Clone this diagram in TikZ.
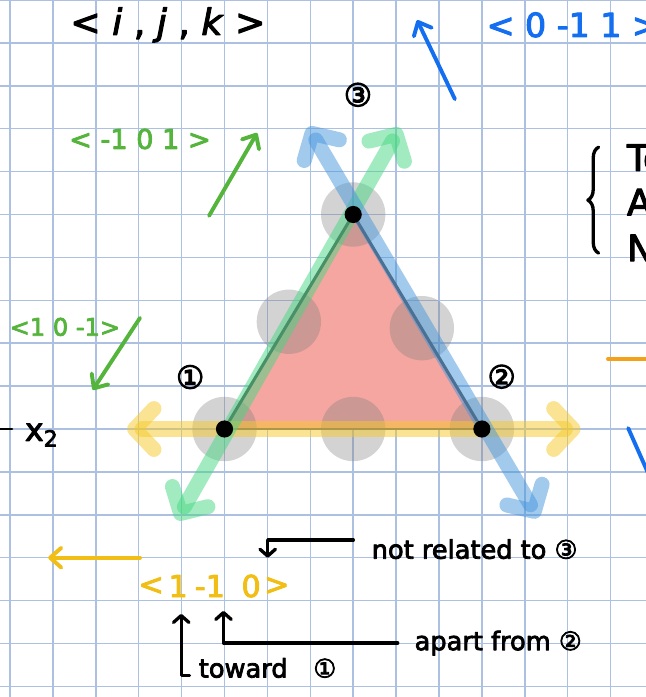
\documentclass[tikz,border=0pt]{standalone}
\usepackage{fontspec}
\setmainfont{DejaVu Sans}[FakeBold=3]
\newfontfamily\numfont{DejaVu Sans}[FakeBold=3.5]
\usetikzlibrary{arrows.meta,decorations.pathreplacing}
\definecolor{gridblue}{RGB}{172,192,226}
\definecolor{trired}{RGB}{245,166,160}
\definecolor{hlyellow}{RGB}{245,200,40}
\definecolor{hlblue}{RGB}{70,150,220}
\definecolor{hlgreen}{RGB}{70,215,130}
\definecolor{inkblue}{RGB}{20,110,240}
\definecolor{inkgreen}{RGB}{85,180,60}
\definecolor{inkyellow}{RGB}{240,190,20}
\definecolor{inkorange}{RGB}{245,160,25}

\begin{document}
\begin{tikzpicture}[line cap=round, line join=round, every node/.style={inner sep=1pt},
    hltip/.tip={Straight Barb[length=4.5mm,width=9.5mm,round]},
    pentip/.tip={Straight Barb[length=2.6mm,width=4.6mm,round]},
    hl/.style={line width=10pt, opacity=0.5, hltip-hltip},
    pen/.style={line width=2.6pt, -pentip},
    ann/.style={line width=2.2pt, {Straight Barb[length=1.6mm,width=3.6mm,round]}-},
    spot/.style={fill=gray, opacity=0.35},
    vec/.style={font=\fontsize{18}{20}\selectfont},
    ytxt/.style={inkyellow, font=\fontsize{20}{22}\selectfont},
    note/.style={font=\fontsize{17}{20}\selectfont, anchor=west},
    num/.style={font=\numfont\fontsize{21}{22}\selectfont, inner sep=0pt}]
  \useasboundingbox (-0.233,-16.247) rectangle (14.802,0);
  \draw[gridblue, line width=1pt] (-0.5,-16.5) grid (15,0);

  % triangle of the three points
  \coordinate (v1) at (5,-10);
  \coordinate (v2) at (11,-10);
  \coordinate (v3) at (8,-5);
  \fill[trired] (v1) -- (v2) -- (v3) -- cycle;
  \fill[spot] (v1) circle (0.75) (v2) circle (0.75) (v3) circle (0.75)
    (6.5,-7.5) circle (0.75) (9.6,-7.65) circle (0.75) (8,-10) circle (0.75);
  \draw[black!70, line width=2pt] (v1) -- (v3) -- (v2);
  \draw[black!60, line width=1.2pt] (v1) -- (v2);
  \draw[hl, hlyellow] (2.73,-10) -- (13.3,-10);
  \draw[hl, hlgreen] (3.89,-12.12) -- (9.09,-2.98);
  \draw[hl, hlblue] (6.95,-2.96) -- (12.31,-12.07);
  \fill (v1) circle (0.2) (v2) circle (0.2) (v3) circle (0.2);
  \node[num] (l1) at (4.2,-8.79) {①};
  \node[num] (l2) at (11.46,-8.78) {②};
  \node[num] (l3) at (8.11,-2.21) {③};

  % direction labels
  \node[font=\fontsize{24}{28}\selectfont] (ijk) at (3.68,-0.58) {< \textit{i} , \textit{j} , \textit{k} >};
  \node[inkblue, anchor=west, font=\fontsize{22}{24}\selectfont] (vblue) at (11.07,-0.58) {< 0 -1 1 >};
  \draw[pen, inkblue] (10.37,-2.31) -- (9.49,-0.47);
  \node[vec, inkgreen] (vgreen) at (3.03,-3.24) {< -1 0 1 >};
  \draw[pen, inkgreen] (4.64,-5.03) -- (5.76,-3.10);
  \node[vec, inkgreen, font=\fontsize{16}{18}\selectfont] (vgreenb) at (1.28,-7.62) {<1 0 -1>};
  \draw[pen, inkgreen] (3.03,-7.41) -- (1.93,-9.09);
  \draw[black, line width=1.5pt] (-0.3,-10) -- (0.05,-10);
  \node[font=\fontsize{21}{22}\selectfont] (xtwo) at (0.74,-10.14) {x\textsubscript{2}};
  \draw[pen, inkyellow] (3.03,-13) -- (0.89,-13);

  % < 1 -1 0 > and what each entry means
  \node[ytxt] (ylt) at (3.29,-13.66) {<};
  \node[ytxt] (y1) at (3.92,-13.66) {1};
  \node[ytxt] (y2) at (4.66,-13.66) {-1};
  \node[ytxt] (y3) at (5.62,-13.66) {0};
  \node[ytxt] (ygt) at (6.22,-13.66) {>};
  \node[note] (notrel) at (8.39,-12.8) {not related to ③};
  \node[note] (apart) at (9.39,-14.99) {apart from ②};
  \node[note] (toward) at (4.36,-15.57) {toward\hspace{0.6cm}①};
  \draw[ann] ([xshift=11pt,yshift=10pt]y3.north) |- ([xshift=-11pt,yshift=6pt]notrel.west);
  \draw[ann] ([xshift=9pt,yshift=-8pt]y2.south) |- ([xshift=-10pt]apart.west);
  \draw[ann] ([xshift=2pt,yshift=-10pt]y1.south) |- ([xshift=-5pt,yshift=-5pt]toward.west);

  % cut off at the right edge
  \draw[line width=2.2pt, decorate, decoration={brace, amplitude=0.25cm}] (13.72,-5.9) -- (13.72,-3.43);
  \node[font=\fontsize{24}{28}\selectfont, anchor=west] (tword) at (14.34,-3.68) {To};
  \node[font=\fontsize{24}{28}\selectfont, anchor=west] (aword) at (14.34,-4.71) {A};
  \node[font=\fontsize{24}{28}\selectfont, anchor=west] (nword) at (14.34,-5.78) {N};
  \draw[inkorange, line width=2.6pt] (13.94,-8.37) -- (15.2,-8.37);
  \draw[inkblue, line width=2.6pt] (14.41,-9.98) -- (14.95,-11.2);
\end{tikzpicture}
\end{document}
